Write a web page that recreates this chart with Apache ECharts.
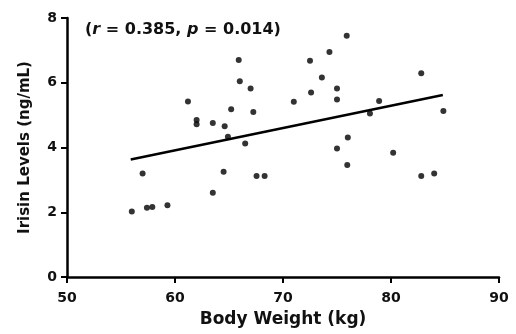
<!DOCTYPE html>
<html>
<head>
<meta charset="utf-8">
<script src="https://cdn.jsdelivr.net/npm/echarts@6/dist/echarts.min.js"></script>
<style>
html,body{margin:0;padding:0;background:#fff;}
#chart{width:516px;height:334px;}
</style>
</head>
<body>
<div id="chart"></div>
<script>
// Body weight (kg) and irisin level (ng/mL) for each subject
var bodyWeight = [56.0, 57.0, 57.4, 57.9, 59.3, 61.2, 62.0, 62.0, 63.5, 63.5, 64.5, 64.6, 64.9, 65.2, 65.9, 66.0, 66.5, 67.0, 67.25, 67.55, 68.3, 71.0, 72.5, 72.6, 73.6, 74.3, 75.0, 75.0, 75.0, 75.9, 76.0, 75.95, 78.05, 78.9, 80.2, 82.8, 82.8, 84.0, 84.85];
var irisin     = [2.02, 3.20, 2.14, 2.16, 2.22, 5.42, 4.85, 4.72, 4.76, 2.60, 3.25, 4.66, 4.33, 5.18, 6.70, 6.05, 4.12, 5.82, 5.10, 3.12, 3.12, 5.41, 6.68, 5.70, 6.16, 6.95, 5.82, 5.48, 3.97, 7.45, 4.31, 3.46, 5.05, 5.44, 3.84, 6.29, 3.12, 3.20, 5.13];
// Regression line end points as drawn
var fitX = [55.9, 84.8];
var fitY = [3.63, 5.62];
var xTicks = [50, 60, 70, 80, 90];
var yTicks = [0, 2, 4, 6, 8];
var titleText = '({i|r} = 0.385, {i|p} = 0.014)';
var xName = 'Body Weight (kg)';
var yName = 'Irisin Levels (ng/mL)';

var FONT = 'DejaVu Sans';
var pts = bodyWeight.map(function (x, i) { return [x, irisin[i]]; });
var fit = fitX.map(function (x, i) { return [x, fitY[i]]; });

var chart = echarts.init(document.getElementById('chart'), null, {renderer: 'canvas'});
chart.setOption({
  animation: false,
  backgroundColor: '#ffffff',
  title: {
    text: titleText,
    left: 80,
    top: 17,
    textStyle: {
      fontFamily: FONT, fontWeight: 'bold', fontSize: 16, color: '#111',
      rich: { i: { fontFamily: FONT, fontWeight: 'bold', fontStyle: 'italic', fontSize: 16, color: '#111' } }
    }
  },
  grid: { left: 67, right: 17, top: 18, bottom: 57 },
  xAxis: {
    type: 'value',
    min: xTicks[0], max: xTicks[xTicks.length - 1], interval: 10,
    name: xName, nameLocation: 'middle', nameGap: 34,
    nameTextStyle: { fontFamily: FONT, fontWeight: 'bold', fontSize: 17, color: '#111' },
    axisLine: { show: true, onZero: false, lineStyle: { color: '#000', width: 2.5 } },
    axisTick: { show: true, inside: false, length: 6, lineStyle: { color: '#000', width: 2 } },
    axisLabel: { margin: 14, fontFamily: FONT, fontWeight: 'bold', fontSize: 14, color: '#111' },
    splitLine: { show: false }
  },
  yAxis: {
    type: 'value',
    min: yTicks[0], max: yTicks[yTicks.length - 1], interval: 2,
    name: yName, nameLocation: 'middle', nameGap: 34,
    nameTextStyle: { fontFamily: FONT, fontWeight: 'bold', fontSize: 15, color: '#111' },
    axisLine: { show: true, onZero: false, lineStyle: { color: '#000', width: 2.5 } },
    axisTick: { show: true, inside: false, length: 6, lineStyle: { color: '#000', width: 2 } },
    axisLabel: { margin: 10, fontFamily: FONT, fontWeight: 'bold', fontSize: 14, color: '#111' },
    splitLine: { show: false }
  },
  series: [
    {
      type: 'line',
      data: fit,
      symbol: 'none',
      lineStyle: { color: '#000', width: 2.5 },
      z: 2
    },
    {
      type: 'scatter',
      data: pts,
      symbol: 'circle',
      symbolSize: 6,
      itemStyle: { color: '#000' },
      z: 3
    }
  ]
});
</script>
</body>
</html>
